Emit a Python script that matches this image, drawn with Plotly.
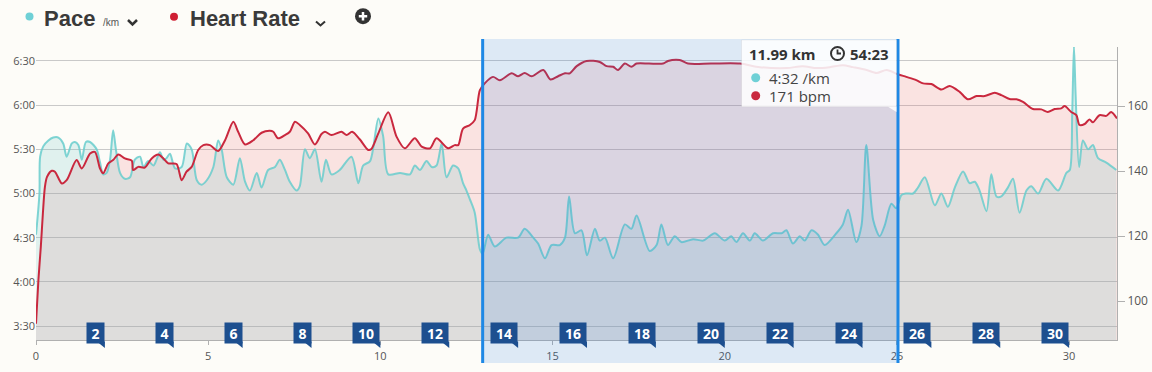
import plotly.graph_objects as go

# ---------------- data ----------------
pace_km = [
    0, 0.10, 0.12, 0.21, 0.36, 0.50, 0.65, 0.79, 0.89, 1.04,
    1.13, 1.23, 1.33, 1.45, 1.57, 1.76, 1.86, 1.95, 2.05, 2.15,
    2.24, 2.32, 2.44, 2.58, 2.73, 2.87, 3.02, 3.12, 3.26, 3.41,
    3.50, 3.60, 3.70, 3.79, 3.89, 4.04, 4.23, 4.38, 4.52, 4.67,
    4.81, 4.96, 5.15, 5.29, 5.39, 5.54, 5.73, 5.92, 6.07, 6.21,
    6.41, 6.55, 6.74, 6.94, 7.08, 7.23, 7.37, 7.57, 7.66, 7.81,
    7.95, 8.10, 8.29, 8.42, 8.58, 8.82, 9.16, 9.36, 9.50, 9.70,
    9.94, 10.08, 10.23, 10.57, 10.86, 11.00, 11.15, 11.34, 11.49, 11.63,
    11.78, 11.92, 12.11, 12.26, 12.40, 12.50, 12.60, 12.74, 12.89, 12.97,
    13.13, 13.32, 13.66, 14.00, 14.19, 14.44, 14.58, 14.78, 14.97, 15.21,
    15.36, 15.48, 15.65, 15.84, 16.00, 16.23, 16.37, 16.52, 16.76, 17.10,
    17.29, 17.44, 17.82, 18.02, 18.16, 18.35, 18.55, 18.74, 19.08, 19.37,
    19.71, 20.00, 20.19, 20.34, 20.53, 20.73, 20.87, 21.11, 21.40, 21.65,
    21.79, 21.98, 22.18, 22.32, 22.52, 22.71, 22.90, 23.24, 23.43, 23.58,
    23.82, 23.97, 24.11, 24.31, 24.50, 24.64, 24.84, 24.98, 25.13, 25.27,
    25.47, 25.61, 25.81, 26.10, 26.29, 26.48, 26.68, 26.92, 27.11, 27.26,
    27.40, 27.60, 27.74, 27.89, 28.03, 28.22, 28.37, 28.56, 28.76, 28.90,
    29.10, 29.34, 29.68, 29.92, 30.02, 30.09, 30.14, 30.19, 30.29, 30.40,
    30.55, 30.69, 30.84, 31.08, 31.37,
]
# pace in seconds per km
pace_sec = [
    272, 300, 325, 332, 336, 338, 338, 334, 325, 334,
    335, 333, 323, 335, 335, 330, 321, 313, 314, 323,
    343, 330, 314, 310, 311, 323, 325, 318, 322, 319,
    323, 328, 323, 324, 327, 317, 318, 334, 330, 309,
    306, 309, 318, 336, 330, 311, 306, 324, 308, 302,
    314, 304, 316, 318, 323, 316, 308, 302, 305, 330,
    324, 330, 308, 323, 313, 316, 325, 307, 319, 322,
    351, 339, 313, 314, 313, 319, 316, 322, 318, 319,
    334, 311, 319, 317, 307, 302, 296, 287, 262, 259,
    272, 264, 270, 270, 276, 270, 266, 256, 265, 265,
    270, 298, 273, 275, 258, 276, 268, 270, 256, 279,
    276, 285, 261, 265, 279, 265, 271, 267, 269, 268,
    273, 268, 271, 267, 273, 268, 273, 268, 273, 273,
    275, 266, 271, 268, 275, 272, 265, 273, 279, 289,
    267, 278, 333, 282, 271, 278, 293, 290, 299, 300,
    300, 304, 311, 292, 300, 291, 304, 315, 307, 308,
    302, 288, 313, 298, 298, 304, 310, 287, 302, 305,
    300, 310, 302, 314, 316, 355, 400, 366, 318, 336,
    330, 333, 324, 321, 316,
]

hr_km = [
    0, 0.07, 0.14, 0.2, 0.26, 0.32, 0.46, 0.55, 0.75, 0.89,
    1.18, 1.33, 1.57, 1.71, 1.86, 1.95, 2.10, 2.24, 2.39, 2.58,
    2.78, 2.82, 2.97, 3.16, 3.36, 3.55, 3.70, 3.84, 4.08, 4.23,
    4.37, 4.52, 4.71, 4.86, 5.05, 5.29, 5.49, 5.73, 5.87, 6.07,
    6.31, 6.55, 6.79, 6.89, 7.03, 7.23, 7.37, 7.52, 7.66, 7.90,
    8.10, 8.29, 8.39, 8.58, 8.87, 9.02, 9.18, 9.40, 9.65, 9.74,
    9.94, 10.23, 10.47, 10.71, 11.00, 11.20, 11.44, 11.63, 11.97, 12.16,
    12.26, 12.40, 12.60, 12.74, 12.89, 13.03, 13.27, 13.47, 13.81, 14.0,
    14.19, 14.39, 14.73, 14.94, 15.16, 15.36, 15.50, 15.70, 15.99, 16.37,
    16.57, 16.76, 16.90, 17.10, 17.29, 17.44, 17.80, 18.21, 18.35, 18.69,
    18.93, 19.60, 20.44, 21.02, 21.80, 22.26, 22.67, 23.05, 23.43, 23.72,
    24.12, 24.41, 24.70, 25.03, 25.27, 25.56, 25.76, 26.0, 26.29, 26.53,
    26.82, 27.06, 27.31, 27.55, 27.84, 28.03, 28.27, 28.47, 28.66, 28.95,
    29.19, 29.38, 29.58, 29.77, 29.87, 30.06, 30.21, 30.30, 30.45, 30.59,
    30.69, 30.88, 31.08, 31.22, 31.39,
]
hr_bpm = [
    93, 106.5, 116.7, 127, 135.2, 138.2, 140.1, 139.8, 136.2, 137.2,
    143.4, 140.8, 145.4, 145.9, 140.8, 139.3, 142.4, 143.4, 145.1, 143.9,
    143.2, 140.3, 141.3, 141.1, 143.9, 145.1, 143.9, 142.4, 142.2, 137.2,
    139.8, 141.3, 146.5, 148, 148, 146.2, 149.5, 155.2, 152.1, 148.2,
    149.5, 151.8, 152.4, 152.1, 150.1, 151.1, 152.1, 155.2, 154.2, 151.6,
    148.2, 151.4, 152.1, 151.1, 152.1, 151.1, 152.1, 149.8, 146.5, 146.8,
    151.6, 158.1, 150.6, 147, 150.1, 147.5, 147, 150.1, 147, 148,
    148, 153.1, 154.2, 155.7, 164.9, 167, 169, 168, 170.1, 169.2,
    170.2, 169.2, 171.1, 168.2, 169.2, 170.1, 170.1, 172.3, 173.9, 173.6,
    172.3, 172.1, 171.1, 173.1, 172.1, 173.1, 173.1, 173.1, 173.9, 174.2,
    173.1, 173.1, 173.1, 172, 171.7, 172.3, 171.7, 172, 172.6, 172,
    171.1, 170.2, 171.1, 169.8, 169, 168, 167, 166.8, 165.1, 166.2,
    164.4, 162.1, 163.1, 163.1, 164.1, 163.4, 162.2, 162.1, 161.3, 159.1,
    159, 158.2, 159.1, 159.3, 160, 158.2, 157.2, 154.2, 154.5, 155.9,
    155, 157.2, 157, 158.2, 156.2,
]

flag_km = [2, 4, 6, 8, 10, 12, 14, 16, 18, 20, 22, 24, 26, 28, 30]
flag_labels = ["2", "4", "6", "8", "10", "12", "14", "16", "18", "20",
               "22", "24", "26", "28", "30"]
marker_km = [0.93, 2.93, 4.93, 6.93, 8.93, 10.92, 12.92, 14.92, 16.92,
             18.92, 20.92, 22.92, 24.92, 26.94, 28.94, 30.94]

pace_tickvals = [210, 240, 270, 300, 330, 360, 390]
pace_ticktext = ["3:30", "4:00", "4:30", "5:00", "5:30", "6:00", "6:30"]
hr_tickvals = [100, 120, 140, 160]
dist_tickvals = [0, 5, 10, 15, 20, 25, 30]

selection_km = [12.97, 25.03]
sel_distance = "11.99 km"
sel_time = "54:23"
sel_pace = "4:32 /km"
sel_hr = "171 bpm"

# ---------------- layout geometry ----------------
W, H = 1152, 372
ML, MR, MT, MB = 36, 35, 47, 32
PW = W - ML - MR
PH = H - MT - MB
X_MAX = 31.39
PACE_RANGE = [200.5, 399.5]
HR_RANGE = [88, 178.2]


def xp(px):
    return (px - ML) / PW


def yp(py):
    return (H - MB - py) / PH


BG = "#fdfcf8"
PACE_LINE = "rgba(105,205,205,0.85)"
PACE_FILL = "rgba(110,200,198,0.2)"
HR_LINE = "#c9283e"
HR_FILL = "rgba(232,86,96,0.15)"
FLAG = "#1d4f8f"
AXIS_LINE = "#b0b0b0"
FONT = "Open Sans, DejaVu Sans, sans-serif"
HEAD_FONT = "Liberation Sans, Arial, sans-serif"

fig = go.Figure()

# heart-rate area (bottom layer)
fig.add_trace(go.Scatter(
    x=hr_km, y=hr_bpm, mode="lines", yaxis="y",
    line=dict(color="rgba(0,0,0,0)", width=0, shape="spline", smoothing=0.8),
    fill="tozeroy", fillcolor=HR_FILL, hoverinfo="skip", showlegend=False,
))
# pace area on top of it
fig.add_trace(go.Scatter(
    x=pace_km, y=pace_sec, mode="lines", yaxis="y2",
    line=dict(color=PACE_LINE, width=2, shape="spline", smoothing=0.8),
    fill="tozeroy", fillcolor=PACE_FILL, hoverinfo="skip", showlegend=False,
))
# heart-rate line above everything
fig.add_trace(go.Scatter(
    x=hr_km, y=hr_bpm, mode="lines", yaxis="y3",
    line=dict(color=HR_LINE, width=2, shape="spline", smoothing=0.8),
    hoverinfo="skip", showlegend=False,
))
fig.add_trace(go.Scatter(
    x=marker_km, y=[yp(343)] * len(marker_km), mode="markers", yaxis="y4",
    marker=dict(symbol="square", size=6, color="#8ea5c7",
                line=dict(color="#6d87ae", width=1)),
    cliponaxis=False, hoverinfo="skip", showlegend=False,
))

shapes = []
shapes.append(dict(type="rect", xref="x", yref="paper",
                   x0=selection_km[0], x1=selection_km[1], y0=yp(363), y1=yp(39),
                   fillcolor="rgba(30,120,230,0.14)", line=dict(width=0), layer="above"))
for s in selection_km:
    shapes.append(dict(type="line", xref="x", yref="paper", x0=s, x1=s,
                       y0=yp(363), y1=yp(39), line=dict(color="#1e88e5", width=3),
                       layer="above"))
dx = 8 / PW * X_MAX
for k in flag_km:
    shapes.append(dict(type="path", xref="x", yref="paper",
                       path=f"M {k - dx},{yp(341.5)} L {k},{yp(341.5)} L {k},{yp(348)} Z",
                       fillcolor=FLAG, line=dict(width=0), layer="above"))
shapes.append(dict(type="rect", xref="paper", yref="paper",
                   x0=xp(741.5), x1=xp(896.5), y0=yp(106.7), y1=yp(40),
                   fillcolor="rgba(255,255,255,0.86)", line=dict(color="rgba(0,0,0,0.05)", width=1),
                   layer="above"))
shapes.append(dict(type="path", xref="paper", yref="paper",
                   path=f"M {xp(888)},{yp(106.7)} L {xp(896.5)},{yp(106.7)} L {xp(896.5)},{yp(112)} Z",
                   fillcolor="rgba(255,255,255,0.86)", line=dict(width=0), layer="above"))
shapes.append(dict(type="circle", xref="paper", yref="paper",
                   x0=xp(831), x1=xp(844), y0=yp(60), y1=yp(47),
                   line=dict(color="#333", width=2), layer="above"))
shapes.append(dict(type="path", xref="paper", yref="paper",
                   path=f"M {xp(837.5)},{yp(49.5)} L {xp(837.5)},{yp(53.5)} L {xp(841)},{yp(53.5)}",
                   line=dict(color="#333", width=1.8), layer="above"))
for cy, col in [(77.7, "#6fd0d6"), (95.7, HR_LINE)]:
    shapes.append(dict(type="circle", xref="paper", yref="paper",
                       x0=xp(751.2), x1=xp(760.2), y0=yp(cy + 4.5), y1=yp(cy - 4.5),
                       fillcolor=col, line=dict(width=0), layer="above"))
for cx, cy, col in [(29.5, 16.5, "#6fd0d6"), (174, 16.7, "#cf1f33")]:
    shapes.append(dict(type="circle", xref="paper", yref="paper",
                       x0=xp(cx - 4), x1=xp(cx + 4), y0=yp(cy + 4), y1=yp(cy - 4),
                       fillcolor=col, line=dict(width=0), layer="above"))
shapes.append(dict(type="path", xref="paper", yref="paper",
                   path=f"M {xp(128)},{yp(20)} L {xp(132.5)},{yp(24.5)} L {xp(137)},{yp(20)}",
                   line=dict(color="#333", width=2.5), layer="above"))
shapes.append(dict(type="path", xref="paper", yref="paper",
                   path=f"M {xp(316)},{yp(21.5)} L {xp(320.5)},{yp(25.5)} L {xp(325)},{yp(21.5)}",
                   line=dict(color="#333", width=2), layer="above"))
shapes.append(dict(type="circle", xref="paper", yref="paper",
                   x0=xp(355), x1=xp(371), y0=yp(24.2), y1=yp(8.2),
                   fillcolor="#333", line=dict(width=0), layer="above"))
shapes.append(dict(type="path", xref="paper", yref="paper",
                   path=f"M {xp(358.8)},{yp(16.2)} L {xp(367.2)},{yp(16.2)} M {xp(363)},{yp(12)} L {xp(363)},{yp(20.4)}",
                   line=dict(color="white", width=2.5), layer="above"))

annotations = []


def label(text, px, py, size, color, family=FONT):
    annotations.append(dict(text=text, xref="paper", yref="paper", x=xp(px), y=yp(py),
                            xanchor="left", yanchor="middle", showarrow=False,
                            font=dict(family=family, size=size, color=color)))


label("<b>Pace</b>", 42, 18.5, 22, "#3a3a3a", HEAD_FONT)
label("/km", 101, 23, 10, "#555", HEAD_FONT)
label("<b>Heart Rate</b>", 188, 18.5, 22, "#3a3a3a", HEAD_FONT)
label(f"<b>{sel_distance}</b>", 747, 54, 15, "#333")
label(f"<b>{sel_time}</b>", 848, 54, 15, "#333")
label(sel_pace, 767, 78, 15, "#444")
label(sel_hr, 767, 96, 15, "#444")

for k, lab in zip(flag_km, flag_labels):
    annotations.append(dict(text=f"<b>{lab}</b>", xref="x", yref="paper", x=k, y=yp(322),
                            xanchor="right", yanchor="top", showarrow=False,
                            bgcolor=FLAG, borderpad=1, width=15 if len(lab) == 1 else 24,
                            height=18, align="center",
                            font=dict(family=FONT, size=14, color="white")))

fig.update_layout(
    width=W, height=H,
    margin=dict(l=ML, r=MR, t=MT, b=MB, autoexpand=False),
    paper_bgcolor=BG, plot_bgcolor=BG,
    showlegend=False,
    font=dict(family=FONT, size=11, color="#555"),
    xaxis=dict(range=[0, X_MAX], tickvals=dist_tickvals, showgrid=False, zeroline=False,
               showline=True, linecolor=AXIS_LINE, linewidth=1, ticks="outside",
               ticklen=4, tickcolor=AXIS_LINE, tickfont=dict(size=11, color="#555"),
               ticklabelstandoff=2, automargin=False),
    yaxis=dict(range=HR_RANGE, visible=False, automargin=False),
    yaxis2=dict(range=PACE_RANGE, tickvals=pace_tickvals, ticktext=pace_ticktext,
                overlaying="y", side="left",
                showgrid=True, gridcolor="#c9c9c9", gridwidth=1, zeroline=False,
                showline=False, ticks="", tickfont=dict(size=11, color="#555"),
                automargin=False),
    yaxis3=dict(range=HR_RANGE, tickvals=hr_tickvals, overlaying="y", side="right",
                showgrid=False, zeroline=False, showline=True, linecolor=AXIS_LINE,
                linewidth=1, ticks="outside", ticklen=7, tickcolor=AXIS_LINE,
                tickfont=dict(size=12, color="#555"), automargin=False),
    yaxis4=dict(range=[0, 1], overlaying="y", visible=False, automargin=False),
    shapes=shapes,
    annotations=annotations,
)

fig.write_html("out.html", config={"displayModeBar": False},
               post_script="document.body.style.margin='0';document.body.style.overflow='hidden';")
